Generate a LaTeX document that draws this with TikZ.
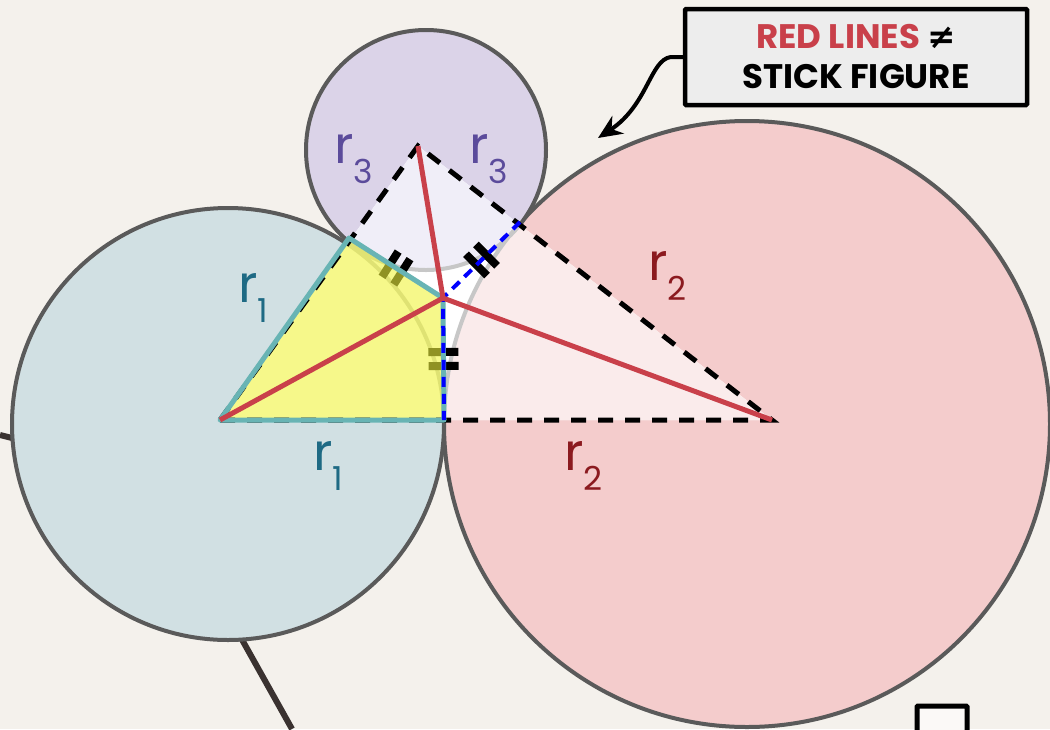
\documentclass[tikz,border=0pt]{standalone}
\usepackage{fontspec}
\setmainfont{Poppins}
\newfontfamily\symfont{DejaVu Sans}
\usetikzlibrary{arrows.meta,decorations.markings,calc}
\definecolor{Paper}{RGB}{244,241,236}
\definecolor{Teal}{RGB}{209,224,227}
\definecolor{Rose}{RGB}{244,204,204}
\definecolor{Lilac}{RGB}{219,211,232}
\definecolor{RoseLt}{RGB}{250,235,235}
\definecolor{LilacLt}{RGB}{240,238,248}
\definecolor{Rim}{RGB}{90,90,90}
\definecolor{Edge}{RGB}{104,180,180}
\definecolor{Hi}{RGB}{240,244,60}
\definecolor{Redl}{RGB}{201,64,74}
\definecolor{TealTx}{RGB}{30,106,132}
\definecolor{RoseTx}{RGB}{139,26,31}
\definecolor{LilacTx}{RGB}{91,75,155}
\definecolor{Ink}{RGB}{58,50,48}
\definecolor{Note}{RGB}{237,237,237}
\newcommand{\rlab}[1]{r\raisebox{-20pt}{\fontsize{33}{33}\selectfont #1}}

\begin{document}
\begin{tikzpicture}[x=1pt,y=-1pt,
 c/.style={draw=Rim,line width=4pt},
 ink/.style={Ink,line width=6pt},
 d/.style={black,line width=5pt,dash pattern=on 15pt off 12pt},
 bl/.style={blue,line width=4pt,dash pattern=on 10pt off 7pt},
 rl/.style={Redl,line width=5pt},
 tk/.style={postaction={decorate},decoration={markings,mark=at position .5 with {\draw[black,line width=8pt] (-7pt,-15pt)--(-7pt,15pt) (7pt,-15pt)--(7pt,15pt);}}},
 lab/.style={anchor=base west,inner sep=0pt,font=\fontsize{52}{56}\selectfont},
 a/.style={-{Stealth[length=24pt,width=21pt]},line width=4pt,black}]
\useasboundingbox (0,0) rectangle (1050,729);
\fill[Paper] (0,0) rectangle (1050,729);
% centres and touch points
\coordinate (A) at (220,420);
\coordinate (B) at (772,420);
\coordinate (C) at (418,146);
\coordinate (P) at (443,298);
\coordinate (tab) at (444,420);
\coordinate (tac) at (349,238);
\coordinate (tbc) at (520,222);
% stubs running off the frame
\draw[ink] (0,435) -- (16,439);
\draw[ink] (240,636) -- (292,729);
% circles
\filldraw[c,fill=Teal] (228,424) circle (216);
\filldraw[c,fill=Rose] (747,424) circle (303);
\filldraw[c,fill=Lilac] (426,150) circle (120);
% inside the triangle
\fill[white] (A)--(B)--(C)--cycle;
\begin{scope}
\clip (A)--(B)--(C)--cycle;
\fill[RoseLt] (747,424) circle (303);
\fill[LilacLt] (426,150) circle (120);
\draw[line width=4pt,black!22] (228,424) circle (216) (747,424) circle (303) (426,150) circle (120);
\end{scope}
\path[tk] (P)--(tac);
\path[tk] (P)--(tbc);
\path[tk] (P)--(tab);
\fill[Hi,opacity=.6] (A)--(tac)--(P)--(tab)--cycle;
\draw[d] (A)--(B)--(C)--cycle;
\draw[Edge,line width=5pt,line join=round] (A)--(tac)--(P)--(tab)--cycle;
\draw[bl] (tbc)--(P)--(tab);
\draw[rl] (A)--(P) (B)--(P) (C)--(P);
% radius labels
\node[lab,text=TealTx] (r1a) at (238,302) {\rlab{1}};
\node[lab,text=TealTx] (r1b) at (313,470) {\rlab{1}};
\node[lab,text=RoseTx] (r2a) at (648,280) {\rlab{2}};
\node[lab,text=RoseTx] (r2b) at (564,470) {\rlab{2}};
\node[lab,text=LilacTx] (r3a) at (334,163) {\rlab{3}};
\node[lab,text=LilacTx] (r3b) at (469,163) {\rlab{3}};
% callout
\node[draw=black,line width=4.5pt,fill=Note,rounded corners=1pt,minimum width=342pt,minimum height=96pt,align=center,
 font=\fontsize{34}{40}\selectfont\bfseries] (note) at (856,57)
 {\textcolor{Redl}{RED LINES} {\symfont ≠}\\STICK FIGURE};
\coordinate (tip) at (598,138);
\draw[a] (note.west) -- ++(-12,0) .. controls (650,60) and (648,105) .. (tip);
% box cut by the lower edge
\draw[black,line width=5pt,fill=white!60!Paper,rounded corners=1pt] (917,706) rectangle (967,740);
\end{tikzpicture}
\end{document}
